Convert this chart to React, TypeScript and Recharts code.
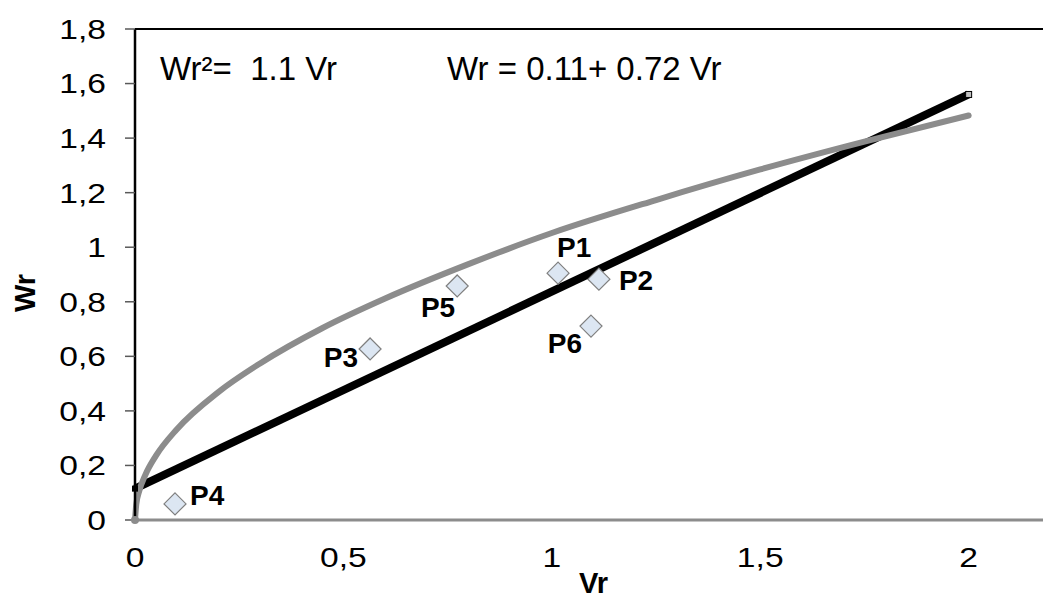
import React from "react";
import { ComposedChart, Line, Scatter, XAxis, YAxis, ReferenceLine } from "recharts";

// gray curve Wr² = 1.1 Vr
const curveVr = [0, 0.003, 0.01, 0.025, 0.05, 0.1, 0.2, 0.3, 0.45, 0.6, 0.8, 1.0, 1.25, 1.5, 1.75, 2.0];
const curveWr = [0, 0.057, 0.105, 0.166, 0.235, 0.332, 0.469, 0.574, 0.704, 0.812, 0.938, 1.052, 1.173, 1.285, 1.387, 1.483];

// black line Wr = 0.11 + 0.72 Vr
const lineVr = [0, 2];
const lineWr = [0.115, 1.56];

// measured points
const pointNames = ["P1", "P2", "P3", "P4", "P5", "P6"];
const pointVr = [1.015, 1.113, 0.564, 0.096, 0.773, 1.094];
const pointWr = [0.905, 0.883, 0.627, 0.059, 0.858, 0.711];

const xTicks = [0, 0.5, 1, 1.5, 2];
const yTicks = [0, 0.2, 0.4, 0.6, 0.8, 1, 1.2, 1.4, 1.6, 1.8];

const FONT = "'Liberation Sans', Arial, sans-serif";
const TICK_STRETCH = 1.2;

// label placement relative to each diamond: [dx, dy, anchor]
const LABEL_POS: Record<string, [number, number, "start" | "end"]> = {
  P1: [-1, -16, "start"],
  P2: [20, 11, "start"],
  P3: [-12, 18, "end"],
  P4: [15, 1, "start"],
  P5: [-2, 31, "end"],
  P6: [-9, 27, "end"],
};

const curveData = curveVr.map((x, i) => ({ x, y: curveWr[i] }));
const lineData = lineVr.map((x, i) => ({ x, y: lineWr[i] }));
const pointData = pointNames.map((name, i) => ({ name, x: pointVr[i], y: pointWr[i] }));

const fmt = (v: number) => (Number.isInteger(v) ? String(v) : v.toFixed(1).replace(".", ","));

function XTick(props: any) {
  const { x, y, payload } = props;
  return (
    <text
      x={x}
      y={y}
      dy="0.71em"
      textAnchor="middle"
      fontFamily={FONT}
      fontSize={28}
      fill="#000"
      transform={`translate(${x} 0) scale(${TICK_STRETCH} 1) translate(${-x} 0)`}
    >
      {fmt(payload.value)}
    </text>
  );
}

function YTick(props: any) {
  const { x, y, payload } = props;
  return (
    <text
      x={x}
      y={y}
      dy="0.355em"
      textAnchor="end"
      fontFamily={FONT}
      fontSize={28}
      fill="#000"
      transform={`translate(${x} 0) scale(${TICK_STRETCH} 1) translate(${-x} 0)`}
    >
      {fmt(payload.value)}
    </text>
  );
}

function Diamond(props: any) {
  const { cx, cy, payload } = props;
  const r = 11;
  const [dx, dy, anchor] = LABEL_POS[payload.name];
  return (
    <g>
      <path
        d={`M${cx},${cy - r}L${cx + r},${cy}L${cx},${cy + r}L${cx - r},${cy}Z`}
        fill="#dce6f2"
        stroke="#7f7f7f"
        strokeWidth={1.2}
      />
      <text x={cx + dx} y={cy + dy} textAnchor={anchor} fontFamily={FONT} fontSize={28} fontWeight="bold" fill="#000">
        {payload.name}
      </text>
    </g>
  );
}

function LineDot(props: any) {
  const { cx, cy, index } = props;
  if (index === 0) return <rect key={index} x={cx - 3} y={cy - 3} width={6} height={6} fill="#000" />;
  return <rect key={index} x={cx - 3} y={cy - 3} width={6} height={6} fill="#c0c0c0" stroke="#000" strokeWidth={1} />;
}

function CurveDot(props: any) {
  const { cx, cy, index } = props;
  if (index === 0) return <circle key={index} cx={cx} cy={cy} r={4} fill="#8c8c8c" />;
  return <g key={index} />;
}

export default function App() {
  return (
    <div style={{ position: "absolute", left: 0, top: 0, width: 1043, height: 606, overflow: "hidden", background: "#fff" }}>
      <ComposedChart width={1060} height={606} margin={{ top: 29, right: 8, bottom: 13, left: 0 }}>
        <XAxis
          type="number"
          dataKey="x"
          domain={[0, 2.2]}
          ticks={xTicks}
          height={73}
          axisLine={{ stroke: "#8c8c8c", strokeWidth: 3 }}
          tickLine={false}
          tickSize={6}
          tickMargin={21}
          tick={XTick}
          label={{ value: "Vr", position: "insideBottom", offset: 0, fill: "#000", fontSize: 29, fontWeight: "bold", fontFamily: FONT }}
        />
        <YAxis
          type="number"
          dataKey="y"
          domain={[0, 1.8]}
          ticks={yTicks}
          width={135}
          axisLine={{ stroke: "#000", strokeWidth: 2.5 }}
          tickLine={{ stroke: "#595959", strokeWidth: 1.5 }}
          tickSize={10}
          tickMargin={19}
          tick={YTick}
          label={{
            content: () => (
              <text x={35} y={293} transform="rotate(-90 35 293)" textAnchor="middle" fontFamily={FONT} fontSize={29} fontWeight="bold" fill="#000">
                Wr
              </text>
            ),
          }}
        />
        <ReferenceLine
          y={1.8}
          stroke="#000"
          strokeWidth={2}
          label={{
            content: () => (
              <g fontFamily={FONT} fontSize={33} fill="#000">
                <text x={160} y={80}>{"Wr²=\u00a0 1.1 Vr"}</text>
                <text x={447} y={80}>Wr = 0.11+ 0.72 Vr</text>
              </g>
            ),
          }}
        />
        <Line
          data={lineData}
          dataKey="y"
          type="linear"
          stroke="#000"
          strokeWidth={8}
          dot={LineDot}
          activeDot={false}
          isAnimationActive={false}
        />
        <Line
          data={curveData}
          dataKey="y"
          type="monotone"
          stroke="#8c8c8c"
          strokeWidth={6}
          strokeLinecap="round"
          dot={CurveDot}
          activeDot={false}
          isAnimationActive={false}
        />
        <Scatter data={pointData} dataKey="y" shape={Diamond} isAnimationActive={false} />
      </ComposedChart>
    </div>
  );
}
